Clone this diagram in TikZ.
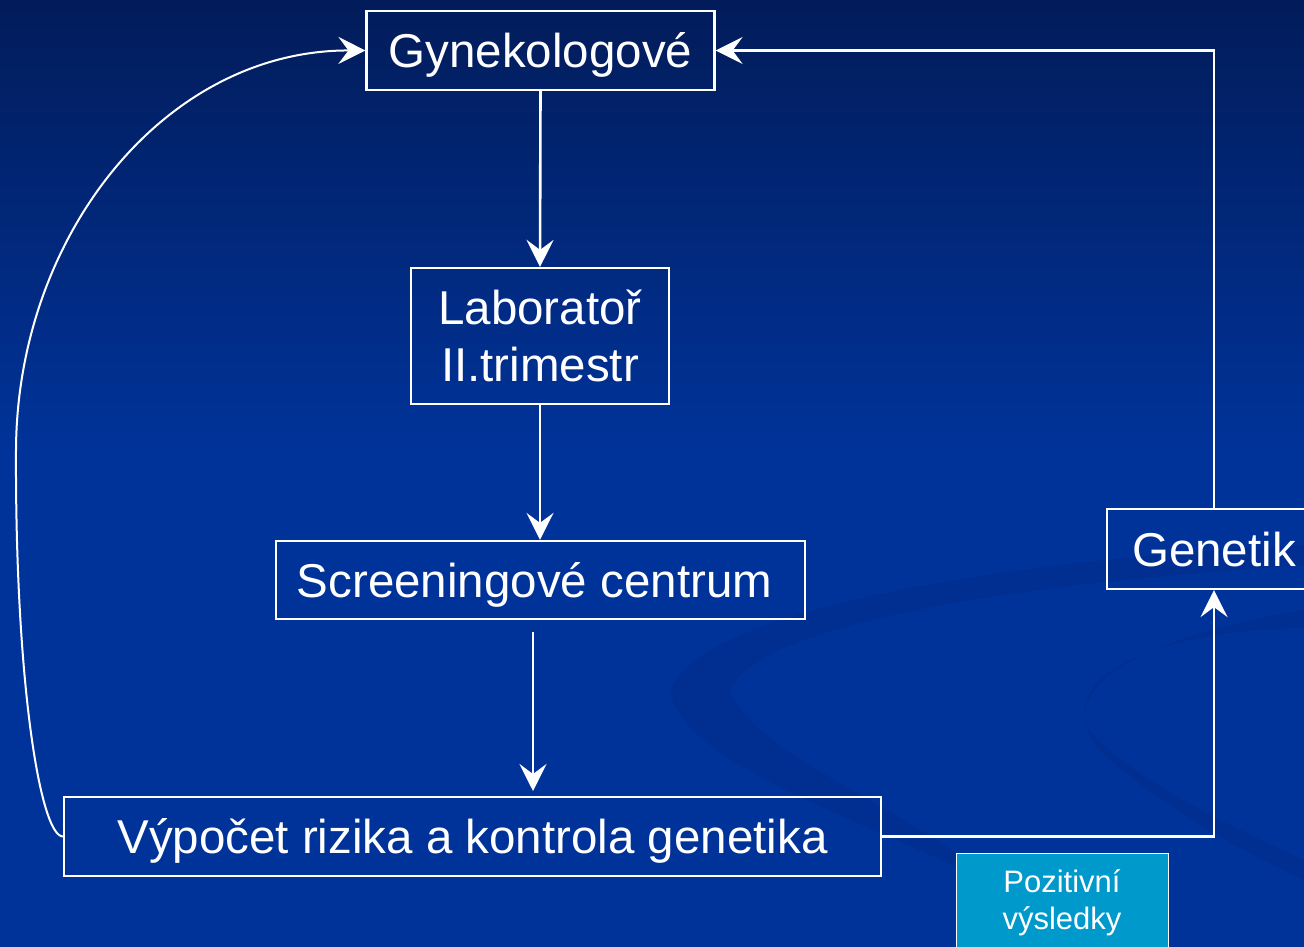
\documentclass[tikz,border=0pt]{standalone}
\usepackage{fontspec}
\setmainfont{Liberation Sans}
\usetikzlibrary{arrows.meta}
\definecolor{bgtop}{RGB}{2,28,90}
\definecolor{bgmid}{RGB}{0,51,153}
\definecolor{posfill}{RGB}{0,153,204}
\definecolor{swirl}{RGB}{0,40,128}
\begin{document}
\begin{tikzpicture}[x=1pt,y=-1pt,
  box/.style={draw=white, line width=2.2pt, inner sep=0pt, text=white,
    font=\fontsize{47.5}{57}\selectfont},
  oneline/.style={text height=34pt, text depth=0pt},
  conn/.style={draw=white, line width=2.6pt,
    -{Stealth[length=27pt,width=27pt,inset=10pt]}}]
\useasboundingbox (0,0) rectangle (1304,947);
\clip (0,0) rectangle (1304,947);
% background
\shade[top color=bgtop, bottom color=bgmid] (0,0) rectangle (1304,450);
\fill[bgmid] (0,449) rectangle (1304,947);
% faint swirl
\fill[swirl, opacity=0.3] (670,690) .. controls (700,610) and (1000,560) .. (1304,545)
  -- (1304,565) .. controls (1000,585) and (760,625) .. (730,690)
  .. controls (760,760) and (900,800) .. (1020,900)
  .. controls (900,830) and (680,770) .. cycle;
\fill[swirl, opacity=0.3] (1304,610) .. controls (1120,640) and (1040,700) .. (1110,760)
  .. controls (1180,820) and (1260,860) .. (1304,880)
  -- (1304,860) .. controls (1240,830) and (1130,780) .. (1090,730)
  .. controls (1060,680) and (1150,630) .. (1304,628) -- cycle;
% nodes
\node[box, oneline, minimum width=348pt, minimum height=79pt] (gyn) at (540.5,50.5) {Gynekologové};
\node[box, minimum width=258pt, minimum height=136pt, align=center] (lab) at (540,336) {Laboratoř\\II.trimestr};
\node[box, oneline, minimum width=529pt, minimum height=78pt] (scr) at (540.5,580) {\hspace*{-12pt}Screeningové centrum};
\node[box, oneline, minimum width=817pt, minimum height=79pt] (vyp) at (472.5,836.5) {Výpočet rizika a kontrola genetika};
\node[box, oneline, minimum width=214pt, minimum height=80pt] (gen) at (1214,549) {Genetik};
\node[draw=white, line width=1.4pt, fill=posfill, minimum width=212pt, minimum height=110pt,
  anchor=north west, inner sep=0pt] (posbox) at (956,853) {};
\node[text=white, font=\fontsize{31}{37}\selectfont, align=center, inner sep=0pt] (postext) at (1062,903) {Pozitivní\\výsledky};
% connectors
\coordinate (s1) at (533,632);
\coordinate (s2) at (533,791);
\draw[conn] (gyn.south) -- (lab.north);
\draw[conn] (lab.south) -- (lab.south |- scr.north);
\draw[conn] (s1) -- (s2);
\draw[conn] (vyp.east) -| (gen.south);
\draw[conn] (gen.north) |- (gyn.east);
\draw[conn, line width=2pt] (vyp.west) .. controls (40,836) and (15,680) .. (16,450)
  .. controls (17,235) and (165,50) .. (gyn.west);
\end{tikzpicture}
\end{document}
